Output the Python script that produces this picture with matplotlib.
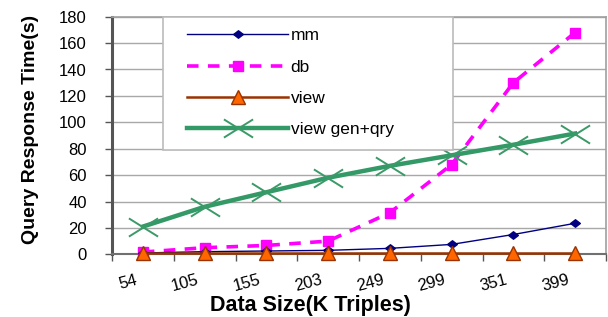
import matplotlib
matplotlib.use("Agg")
import matplotlib.pyplot as plt
import numpy as np
from matplotlib.path import Path
from matplotlib.patches import Rectangle

categories = ["54", "105", "155", "203", "249", "299", "351", "399"]
mm = [1.0, 2.0, 2.5, 3.0, 4.5, 7.5, 15.0, 23.5]
db = [1.7, 5.0, 6.7, 10.0, 31.5, 68.0, 130.0, 168.0]
view = [0.8, 0.8, 0.8, 0.8, 0.8, 0.8, 0.8, 0.8]
view_gen_qry = [21.0, 36.0, 47.0, 58.0, 67.0, 75.0, 83.0, 91.5]
yticks = [0, 20, 40, 60, 80, 100, 120, 140, 160, 180]

plt.rcParams['font.family'] = ['Liberation Sans', 'DejaVu Sans']

W, H = 608, 317
fig = plt.figure(figsize=(W / 100, H / 100), dpi=100)
ax = fig.add_axes([112 / W, 1 - 254.3 / H, 494 / W, (254.3 - 16.7) / H])

x = np.arange(len(categories))

wide_x = Path([(-0.8, -0.5), (0.8, 0.5), (-0.8, 0.5), (0.8, -0.5)],
              [Path.MOVETO, Path.LINETO, Path.MOVETO, Path.LINETO])
wide_d = Path([(0, -0.5), (0.65, 0), (0, 0.5), (-0.65, 0), (0, -0.5)],
              [Path.MOVETO, Path.LINETO, Path.LINETO, Path.LINETO, Path.CLOSEPOLY])

ax.plot(x, mm, color='#000080', lw=1.0, marker=wide_d, markersize=7,
        markerfacecolor='#000080', markeredgecolor='#000080', label='mm', zorder=4,
        clip_on=False)
ax.plot(x, db, color='#FF00FF', lw=2.6, linestyle=(0, (3.2, 2.6)), marker='s',
        markersize=7, markerfacecolor='#FF00FF', markeredgecolor='#FF00FF',
        label='db', zorder=3, clip_on=False)
ax.plot(x, view, color='#993300', lw=1.8, marker='^', markersize=10,
        markerfacecolor='#FF6600', markeredgecolor='#993300', markeredgewidth=1.0,
        label='view', zorder=5, clip_on=False)
ax.plot(x, view_gen_qry, color='#339966', lw=3.2, marker=wide_x, markersize=21,
        markeredgewidth=1.4, markeredgecolor='#3A9A68', label='view gen+qry', zorder=3,
        clip_on=False)

ax.set_xlim(-0.5, len(categories) - 0.5)
ax.set_ylim(0, 180)
ax.set_yticks(yticks)
ax.set_yticklabels([str(v) for v in yticks], fontsize=12)
ax.yaxis.grid(True, color='#A8A8A8', lw=1.0)
ax.set_axisbelow(True)

# category boundaries as major ticks, labels on minor ticks
ax.set_xticks(np.arange(len(categories) + 1) - 0.5)
ax.set_xticklabels([])
ax.set_xticks(x - 0.13, minor=True)
ax.set_xticklabels(categories, minor=True, fontsize=12)
ax.tick_params(axis='x', which='major', length=5, width=1, color='#555555', direction='out')
ax.tick_params(axis='x', which='minor', length=0, pad=13)
for lab in ax.get_xticklabels(minor=True):
    lab.set_rotation(15)
    lab.set_ha('right')
    lab.set_va('top')
    lab.set_rotation_mode('anchor')
ax.tick_params(axis='y', length=5, width=1, color='#555555', direction='out', pad=13)

ax.spines['left'].set_color('#555555')
ax.spines['left'].set_linewidth(2.2)
ax.spines['bottom'].set_color('#707070')
ax.spines['bottom'].set_linewidth(1.5)
ax.spines['top'].set_color('#A0A0A0')
ax.spines['top'].set_linewidth(1.2)
ax.spines['right'].set_color('#A0A0A0')
ax.spines['right'].set_linewidth(1.2)

# legend box frame
frame = Rectangle((163 / W, 1 - 150 / H), 290 / W, 133 / H,
                  transform=fig.transFigure, facecolor='white',
                  edgecolor='#BBBBBB', lw=1.2, zorder=6, clip_on=False)
ax.add_patch(frame)
leg = ax.legend(loc='upper left', bbox_to_anchor=(182 / W, 1 - 23 / H),
                bbox_transform=fig.transFigure, fontsize=12.5,
                frameon=False, borderpad=0.3,
                labelspacing=0.93, handlelength=5.8, handletextpad=0.15,
                borderaxespad=0)
leg.set_zorder(7)

fig.text(31 / W, 1 - 129 / H, 'Query Response Time(s)', rotation=90, ha='center',
         va='center', fontsize=14, fontweight='bold')
fig.text(310 / W, 1 - 305 / H, 'Data Size(K Triples)', ha='center', va='center',
         fontsize=15.5, fontweight='bold')

fig.savefig('out.png', dpi=100)
